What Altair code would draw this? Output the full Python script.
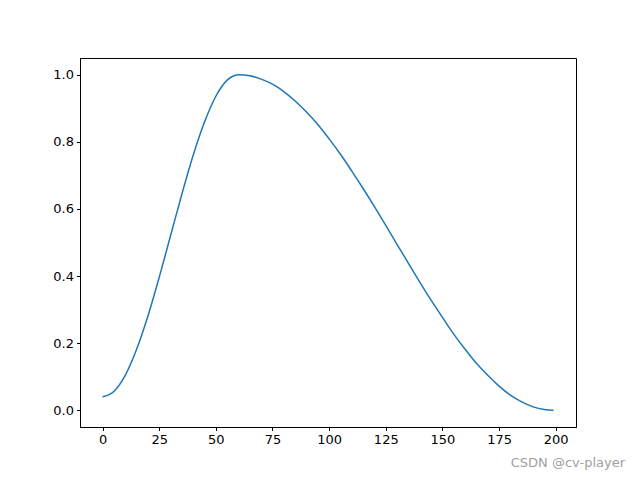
import altair as alt
import pandas as pd

epochs = [0, 5, 10, 15, 20, 25, 30, 35, 40, 45, 50, 55, 58, 60, 65, 70, 75, 80, 85, 90,
          95, 100, 105, 110, 115, 120, 125, 130, 135, 140, 145, 150, 155, 160, 165,
          170, 175, 180, 185, 190, 195, 199]
lr = [0.040, 0.056, 0.104, 0.181, 0.280, 0.396, 0.520, 0.644, 0.760, 0.859, 0.936,
      0.984, 0.997, 1.000, 0.997, 0.987, 0.972, 0.950, 0.922, 0.889, 0.852, 0.809,
      0.763, 0.713, 0.661, 0.607, 0.551, 0.494, 0.438, 0.382, 0.328, 0.277, 0.227,
      0.182, 0.140, 0.104, 0.072, 0.045, 0.025, 0.010, 0.002, 0.000]
x_ticks = [0, 25, 50, 75, 100, 125, 150, 175, 200]
y_ticks = [0.0, 0.2, 0.4, 0.6, 0.8, 1.0]
watermark = "CSDN @cv-player"

df = pd.DataFrame({"epoch": epochs, "lr": lr})

font = "DejaVu Sans"

line = alt.Chart(df).mark_line(color="#1f77b4", strokeWidth=1.5, interpolate="monotone").encode(
    x=alt.X("epoch:Q", scale=alt.Scale(domain=[-9.95, 208.95], nice=False, zero=False),
            axis=alt.Axis(values=x_ticks, title=None, grid=False, tickSize=3.5,
                          labelPadding=3, format="d")),
    y=alt.Y("lr:Q", scale=alt.Scale(domain=[-0.05, 1.05], nice=False, zero=False),
            axis=alt.Axis(values=y_ticks, title=None, grid=False, tickSize=3.5,
                          labelPadding=3, format=".1f")),
)

wm = alt.Chart(pd.DataFrame({"t": [watermark]})).mark_text(
    align="right", baseline="middle", font=font, fontSize=13, color="#a0a0a0"
).encode(x=alt.value(545), y=alt.value(405), text="t:N")

chart = alt.layer(line, wm).properties(
    width=496, height=369,
    background="white",
    autosize=alt.AutoSizeParams(type="none"),
    padding={"left": 72, "top": 50, "right": 56, "bottom": 45},
).configure_view(stroke="black", strokeWidth=1).configure_axis(
    labelFont=font, labelFontSize=13, labelColor="black", domainColor="black",
    tickColor="black", domainWidth=1, tickWidth=1
)

chart.save("out.html", embed_options={"renderer": "svg", "actions": False})
